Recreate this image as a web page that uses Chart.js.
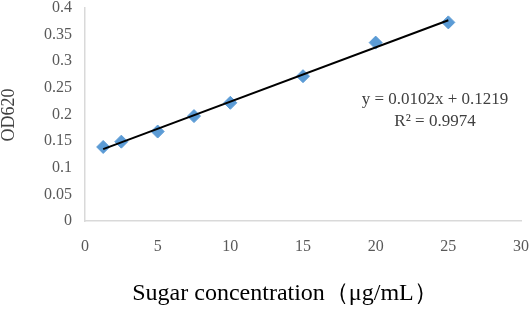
<!DOCTYPE html>
<html>
<head>
<meta charset="utf-8">
<script src="https://cdn.jsdelivr.net/npm/chart.js@4"></script>
<style>
  html, body { margin: 0; padding: 0; background: #fff; }
  #wrap { width: 532px; height: 309px; position: relative; }
</style>
</head>
<body>
<div id="wrap"><canvas id="chart-sugar" width="532" height="309"></canvas></div>
<script>
// measured points (sugar concentration, OD620)
const concentrations = [1.25, 2.5, 5, 7.5, 10, 15, 20, 25];
const od620 = [0.139, 0.149, 0.168, 0.197, 0.222, 0.272, 0.335, 0.373];
// linear fit drawn between the first and last concentration
const trendX = [1.25, 25];
const trendY = [0.135, 0.377];
const equationLines = ['y = 0.0102x + 0.1219', 'R² = 0.9974'];
const xTitle = 'Sugar concentration（μg/mL）';
const yTitle = 'OD620';

const serif = '"Liberation Serif", "Times New Roman", serif';

const titlesPlugin = {
  id: 'titles',
  afterDraw(chart) {
    const ctx = chart.ctx;
    ctx.save();
    ctx.fillStyle = '#000';
    ctx.textAlign = 'center';
    ctx.textBaseline = 'middle';
    ctx.font = '24px ' + serif;
    ctx.fillText(xTitle, 285, 294);

    ctx.translate(9, 115);
    ctx.rotate(-Math.PI / 2);
    ctx.font = '18px ' + serif;
    ctx.fillStyle = '#404040';
    ctx.fillText(yTitle, 0, 0);
    ctx.restore();

    ctx.save();
    ctx.fillStyle = '#404040';
    ctx.font = '17px ' + serif;
    ctx.textAlign = 'center';
    ctx.textBaseline = 'middle';
    ctx.fillText(equationLines[0], 435, 100);
    ctx.fillText(equationLines[1], 435, 122);
    ctx.restore();
  }
};

const data = {
  datasets: [
    {
      type: 'line',
      data: trendX.map((x, i) => ({ x: x, y: trendY[i] })),
      borderColor: '#000',
      borderWidth: 2,
      pointRadius: 0,
      fill: false,
      order: 1
    },
    {
      type: 'scatter',
      data: concentrations.map((x, i) => ({ x: x, y: od620[i] })),
      pointStyle: 'rectRot',
      pointRadius: 6.5,
      backgroundColor: '#5B9BD5',
      borderColor: '#5B9BD5',
      order: 2
    }
  ]
};

new Chart(document.getElementById('chart-sugar'), {
  type: 'scatter',
  data: data,
  options: {
    responsive: false,
    animation: false,
    devicePixelRatio: 1,
    layout: { autoPadding: false, padding: { left: 0, right: 11, top: 8, bottom: 0 } },
    plugins: {
      legend: { display: false },
      tooltip: { enabled: false }
    },
    scales: {
      x: {
        type: 'linear',
        min: 0,
        max: 30,
        ticks: {
          stepSize: 5,
          padding: 16,
          color: '#595959',
          font: { family: serif, size: 16 }
        },
        grid: { display: false, drawTicks: false },
        border: { color: '#d9d9d9', width: 1.5 },
        afterFit(scale) {
          scale.height = 88;
          scale.paddingLeft = 0;
          scale.paddingRight = 0;
        }
      },
      y: {
        min: 0,
        max: 0.4,
        ticks: {
          stepSize: 0.05,
          padding: 13,
          color: '#595959',
          font: { family: serif, size: 16 },
          callback: v => String(Number(v.toFixed(2)))
        },
        grid: { display: false, drawTicks: false },
        border: { color: '#d9d9d9', width: 1.5 },
        afterFit(scale) {
          scale.width = 85;
          scale.paddingTop = 0;
          scale.paddingBottom = 0;
        }
      }
    }
  },
  plugins: [titlesPlugin]
});
</script>
</body>
</html>
